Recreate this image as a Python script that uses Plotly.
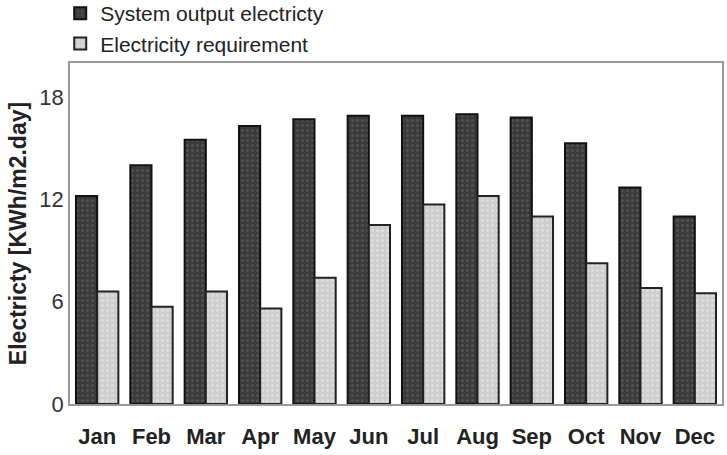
import plotly.graph_objects as go

months = ["Jan", "Feb", "Mar", "Apr", "May", "Jun", "Jul", "Aug", "Sep", "Oct", "Nov", "Dec"]
system_output = [12.2, 14.0, 15.5, 16.3, 16.7, 16.9, 16.9, 17.0, 16.8, 15.3, 12.7, 11.0]
requirement = [6.6, 5.7, 6.6, 5.6, 7.4, 10.5, 11.7, 12.2, 11.0, 8.25, 6.8, 6.5]
y_ticks = [0, 6, 12, 18]

fig = go.Figure()
fig.add_trace(go.Bar(
    x=months, y=system_output, name="System output electricty",
    marker=dict(color="#3a3a3a", line=dict(color="#111111", width=2),
                pattern=dict(shape=".", fgcolor="#6a6a6a", size=5, solidity=0.3)),
))
fig.add_trace(go.Bar(
    x=months, y=requirement, name="Electricity requirement",
    marker=dict(color="#cdcdcd", line=dict(color="#222222", width=2),
                pattern=dict(shape=".", fgcolor="#f0f0f0", size=5, solidity=0.3)),
))

fig.update_layout(
    width=727, height=455,
    margin=dict(l=70, r=5, t=63, b=51, autoexpand=False),
    paper_bgcolor="white", plot_bgcolor="white",
    barmode="group", bargap=0.22, bargroupgap=0,
    font=dict(family="Liberation Sans, Arial, sans-serif", color="#222222"),
    showlegend=True,
    legend=dict(x=-0.015, y=1.205, xanchor="left", yanchor="top",
                font=dict(size=21, color="#222222"), bgcolor="rgba(0,0,0,0)",
                traceorder="normal", tracegroupgap=0),
    xaxis=dict(showline=True, linecolor="#999999", linewidth=1.5, mirror=True,
               tickfont=dict(family="Liberation Sans Narrow, Arial Narrow, Arial", size=22, color="#222222"),
               ticks="", showgrid=False, ticklabelstandoff=12),
    yaxis=dict(range=[0, 20], tickvals=y_ticks, showline=True, linecolor="#999999", linewidth=1.5,
               mirror=True, showgrid=False, zeroline=False, ticks="",
               tickfont=dict(size=22, color="#333333"),
               title=dict(text="<b>Electricty [KWh/m2.day]</b>", font=dict(size=23, color="#222222"), standoff=6)),
)
fig.update_xaxes(tickprefix="<b>", ticksuffix="</b>")

fig.write_html("out.html")
